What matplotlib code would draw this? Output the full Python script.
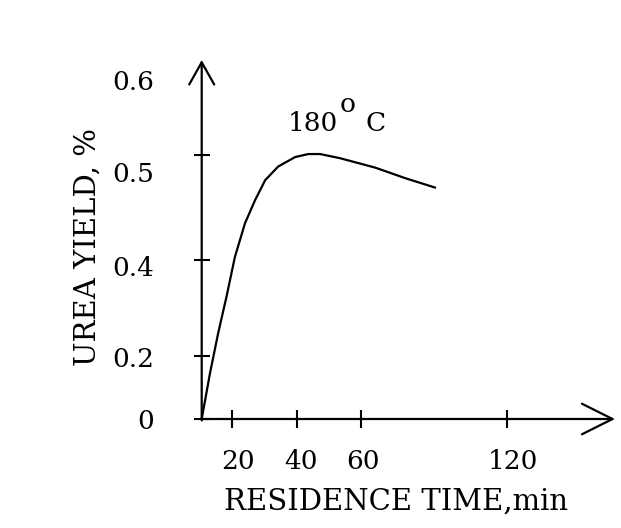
import numpy as np
import matplotlib
matplotlib.use('Agg')
import matplotlib.pyplot as plt
from matplotlib.transforms import ScaledTranslation

plt.rcParams['font.family'] = 'DejaVu Serif'

# yield curve at 180 C
time_min = [0, 5.5, 10.9, 16.4, 20.9, 24.0, 27.1, 30.2, 34.2, 39.4, 43.5, 47.2,
            53.4, 65.8, 78.1, 90.4]
urea_yield = [0, 0.146, 0.248, 0.324, 0.403, 0.435, 0.457, 0.476, 0.489, 0.498,
              0.501, 0.501, 0.497, 0.488, 0.478, 0.469]

x_ticks = [20, 40, 60, 120]
x_labels = ['20', '40', '60', '120']
y_ticks = [0, 0.2, 0.4, 0.5, 0.6]
y_labels = ['0', '0.2', '0.4', '0.5', '0.6']

# the original axes are not evenly spaced, so use a piecewise scale
x_scale_vals = [0, 20, 40, 60, 120, 180]
x_scale_pos = [0, 30.3, 95.3, 159.3, 305.3, 451.3]
y_scale_vals = [0, 0.2, 0.4, 0.5, 0.6, 0.7]
y_scale_pos = [0, 63, 159, 264, 359, 454]


def fwd_x(v):
    return np.interp(v, x_scale_vals, x_scale_pos)


def inv_x(p):
    return np.interp(p, x_scale_pos, x_scale_vals)


def fwd_y(v):
    return np.interp(v, y_scale_vals, y_scale_pos)


def inv_y(p):
    return np.interp(p, y_scale_pos, y_scale_vals)


fig = plt.figure(figsize=(6.21, 5.28), dpi=100)
ax = fig.add_axes([201.7 / 621, 109 / 528, 413.3 / 621, 359 / 528])
ax.set_xscale('function', functions=(fwd_x, inv_x))
ax.set_yscale('function', functions=(fwd_y, inv_y))
ax.set_xlim(0, inv_x(413.3))
ax.set_ylim(0, 0.6)

ax.plot(time_min, urea_yield, color='black', lw=1.6, clip_on=False,
        solid_joinstyle='round')

for s in ax.spines.values():
    s.set_visible(False)

# axes drawn as arrows
ax.annotate('', xy=(1, 0), xytext=(0, 0), xycoords='axes fraction',
            arrowprops=dict(arrowstyle='->,head_length=1.1,head_width=0.55',
                            lw=1.6, color='black', shrinkA=0, shrinkB=0,
                            mutation_scale=20), annotation_clip=False)
ax.annotate('', xy=(0, 1), xytext=(0, -0.004), xycoords='axes fraction',
            arrowprops=dict(arrowstyle='->,head_length=0.8,head_width=0.45',
                            lw=1.6, color='black', shrinkA=0, shrinkB=0,
                            mutation_scale=20), annotation_clip=False)

ax.set_xticks(x_ticks, x_labels)
ax.set_yticks(y_ticks, y_labels)
ax.tick_params(axis='x', direction='inout', length=13, width=1.5, pad=15,
               labelsize=19)
ax.tick_params(axis='y', direction='inout', length=12, width=1.5, pad=28,
               labelsize=19)
ax.yaxis.get_major_ticks()[-1].tick1line.set_visible(False)

# labels in the original sit a little off their ticks
x_shift = [6, 4, 2, 6]
for lab, dx in zip(ax.get_xticklabels(), x_shift):
    lab.set_transform(lab.get_transform() + ScaledTranslation(dx / 100, 0, fig.dpi_scale_trans))
y_shift = [0, -1, -6, -17, -20]
for lab, dy in zip(ax.get_yticklabels(), y_shift):
    lab.set_transform(lab.get_transform() + ScaledTranslation(0, dy / 100, fig.dpi_scale_trans))

fig.text(396 / 621, 1 - 502 / 528, 'RESIDENCE TIME,min', ha='center', va='center',
         fontsize=21)
fig.text(88 / 621, 1 - 247 / 528, 'UREA YIELD, %', ha='center', va='center',
         rotation=90, fontsize=21)

ax.annotate('180', xy=(45, 0.502), xytext=(0, 21), textcoords='offset points',
            ha='center', va='center', fontsize=19)
ax.annotate('o', xy=(45, 0.502), xytext=(25, 35), textcoords='offset points',
            ha='center', va='center', fontsize=19)
ax.annotate('C', xy=(45, 0.502), xytext=(45, 21), textcoords='offset points',
            ha='center', va='center', fontsize=19)

fig.savefig('out.png', dpi=100)
